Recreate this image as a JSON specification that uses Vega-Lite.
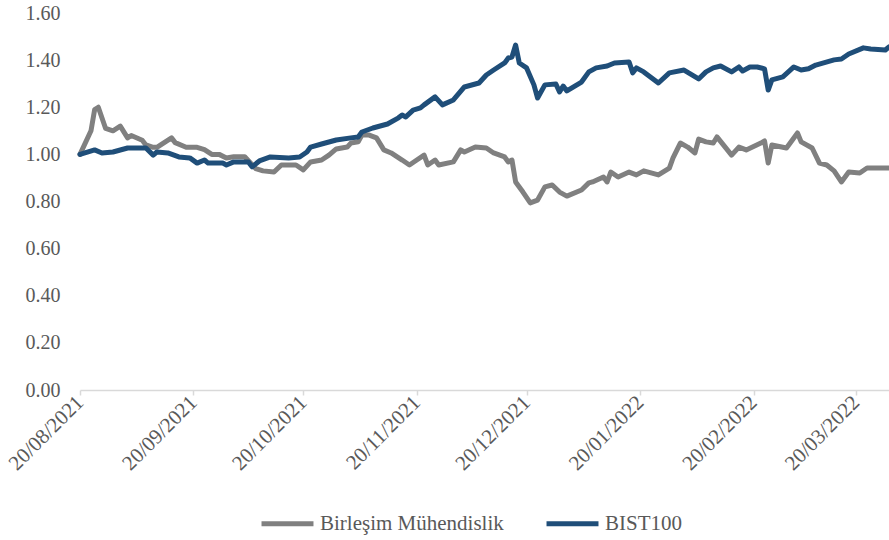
{
  "$schema": "https://vega.github.io/schema/vega-lite/v6.json",
  "width": 809,
  "height": 377,
  "autosize": "none",
  "padding": {"left": 80, "top": 13, "right": 0, "bottom": 150},
  "background": "white",
  "config": {"view": {"stroke": null}, "font": "Liberation Serif"},
  "datasets": {
    "g": [
      {"date":"2021-08-20","v":1.00},{"date":"2021-08-23","v":1.10},{"date":"2021-08-24","v":1.19},{"date":"2021-08-25","v":1.20},
      {"date":"2021-08-27","v":1.11},{"date":"2021-08-29","v":1.10},{"date":"2021-08-31","v":1.12},{"date":"2021-09-02","v":1.07},
      {"date":"2021-09-03","v":1.08},{"date":"2021-09-06","v":1.06},{"date":"2021-09-07","v":1.04},{"date":"2021-09-09","v":1.03},
      {"date":"2021-09-10","v":1.03},{"date":"2021-09-12","v":1.05},{"date":"2021-09-14","v":1.07},{"date":"2021-09-15","v":1.05},
      {"date":"2021-09-18","v":1.03},{"date":"2021-09-20","v":1.03},{"date":"2021-09-21","v":1.03},{"date":"2021-09-23","v":1.02},
      {"date":"2021-09-25","v":1.00},{"date":"2021-09-27","v":1.00},{"date":"2021-09-29","v":0.985},{"date":"2021-10-01","v":0.99},
      {"date":"2021-10-04","v":0.99},{"date":"2021-10-07","v":0.94},{"date":"2021-10-09","v":0.93},{"date":"2021-10-12","v":0.925},
      {"date":"2021-10-14","v":0.955},{"date":"2021-10-18","v":0.955},{"date":"2021-10-20","v":0.934},{"date":"2021-10-22","v":0.968},
      {"date":"2021-10-25","v":0.976},{"date":"2021-10-27","v":0.997},{"date":"2021-10-29","v":1.023},{"date":"2021-11-01","v":1.031},
      {"date":"2021-11-02","v":1.048},{"date":"2021-11-04","v":1.053},{"date":"2021-11-05","v":1.082},{"date":"2021-11-07","v":1.082},
      {"date":"2021-11-09","v":1.07},{"date":"2021-11-11","v":1.019},{"date":"2021-11-13","v":1.006},{"date":"2021-11-16","v":0.976},
      {"date":"2021-11-18","v":0.955},{"date":"2021-11-20","v":0.976},{"date":"2021-11-22","v":0.997},{"date":"2021-11-23","v":0.955},
      {"date":"2021-11-25","v":0.976},{"date":"2021-11-26","v":0.955},{"date":"2021-11-30","v":0.968},{"date":"2021-12-02","v":1.019},
      {"date":"2021-12-03","v":1.01},{"date":"2021-12-06","v":1.031},{"date":"2021-12-09","v":1.027},{"date":"2021-12-11","v":1.006},
      {"date":"2021-12-14","v":0.989},{"date":"2021-12-15","v":0.968},{"date":"2021-12-16","v":0.976},{"date":"2021-12-17","v":0.883},
      {"date":"2021-12-19","v":0.84},{"date":"2021-12-21","v":0.794},{"date":"2021-12-23","v":0.806},{"date":"2021-12-25","v":0.862},
      {"date":"2021-12-27","v":0.87},{"date":"2021-12-29","v":0.84},{"date":"2021-12-31","v":0.823},{"date":"2022-01-04","v":0.849},
      {"date":"2022-01-06","v":0.879},{"date":"2022-01-07","v":0.883},{"date":"2022-01-10","v":0.904},{"date":"2022-01-11","v":0.883},
      {"date":"2022-01-12","v":0.925},{"date":"2022-01-14","v":0.904},{"date":"2022-01-17","v":0.925},{"date":"2022-01-19","v":0.913},
      {"date":"2022-01-21","v":0.93},{"date":"2022-01-25","v":0.913},{"date":"2022-01-28","v":0.942},{"date":"2022-01-29","v":0.985},
      {"date":"2022-01-31","v":1.048},{"date":"2022-02-02","v":1.031},{"date":"2022-02-04","v":1.006},{"date":"2022-02-05","v":1.065},
      {"date":"2022-02-07","v":1.053},{"date":"2022-02-09","v":1.048},{"date":"2022-02-10","v":1.074},{"date":"2022-02-14","v":0.997},
      {"date":"2022-02-16","v":1.031},{"date":"2022-02-18","v":1.019},{"date":"2022-02-22","v":1.048},{"date":"2022-02-23","v":1.057},
      {"date":"2022-02-24","v":0.963},{"date":"2022-02-25","v":1.04},{"date":"2022-03-01","v":1.027},{"date":"2022-03-04","v":1.091},
      {"date":"2022-03-05","v":1.053},{"date":"2022-03-08","v":1.027},{"date":"2022-03-10","v":0.963},{"date":"2022-03-12","v":0.955},
      {"date":"2022-03-14","v":0.93},{"date":"2022-03-16","v":0.883},{"date":"2022-03-18","v":0.925},{"date":"2022-03-21","v":0.921},
      {"date":"2022-03-23","v":0.942},{"date":"2022-03-26","v":0.942},{"date":"2022-03-29","v":0.942}
    ],
    "b": [
      {"date":"2021-08-20","v":1.00},{"date":"2021-08-24","v":1.019},{"date":"2021-08-26","v":1.006},{"date":"2021-08-29","v":1.01},
      {"date":"2021-09-02","v":1.027},{"date":"2021-09-07","v":1.027},{"date":"2021-09-09","v":0.997},{"date":"2021-09-10","v":1.01},
      {"date":"2021-09-13","v":1.006},{"date":"2021-09-16","v":0.989},{"date":"2021-09-19","v":0.985},{"date":"2021-09-21","v":0.963},
      {"date":"2021-09-23","v":0.976},{"date":"2021-09-24","v":0.963},{"date":"2021-09-28","v":0.963},{"date":"2021-09-29","v":0.955},
      {"date":"2021-10-01","v":0.968},{"date":"2021-10-03","v":0.968},{"date":"2021-10-05","v":0.968},{"date":"2021-10-06","v":0.947},
      {"date":"2021-10-08","v":0.972},{"date":"2021-10-11","v":0.989},{"date":"2021-10-16","v":0.985},{"date":"2021-10-19","v":0.989},
      {"date":"2021-10-21","v":1.01},{"date":"2021-10-22","v":1.031},{"date":"2021-10-25","v":1.044},{"date":"2021-10-29","v":1.061},
      {"date":"2021-11-02","v":1.07},{"date":"2021-11-04","v":1.074},{"date":"2021-11-05","v":1.095},{"date":"2021-11-08","v":1.112},
      {"date":"2021-11-12","v":1.129},{"date":"2021-11-15","v":1.155},{"date":"2021-11-16","v":1.167},{"date":"2021-11-17","v":1.159},
      {"date":"2021-11-19","v":1.188},{"date":"2021-11-21","v":1.197},{"date":"2021-11-22","v":1.21},{"date":"2021-11-25","v":1.244},
      {"date":"2021-11-27","v":1.21},{"date":"2021-11-30","v":1.231},{"date":"2021-12-03","v":1.286},{"date":"2021-12-07","v":1.303},
      {"date":"2021-12-09","v":1.337},{"date":"2021-12-11","v":1.358},{"date":"2021-12-14","v":1.388},{"date":"2021-12-15","v":1.409},
      {"date":"2021-12-16","v":1.413},{"date":"2021-12-17","v":1.464},{"date":"2021-12-18","v":1.388},{"date":"2021-12-20","v":1.367},
      {"date":"2021-12-22","v":1.295},{"date":"2021-12-23","v":1.239},{"date":"2021-12-25","v":1.295},{"date":"2021-12-28","v":1.299},
      {"date":"2021-12-29","v":1.265},{"date":"2021-12-30","v":1.29},{"date":"2021-12-31","v":1.269},{"date":"2022-01-04","v":1.307},
      {"date":"2022-01-06","v":1.35},{"date":"2022-01-08","v":1.367},{"date":"2022-01-11","v":1.375},{"date":"2022-01-13","v":1.388},
      {"date":"2022-01-17","v":1.392},{"date":"2022-01-18","v":1.346},{"date":"2022-01-19","v":1.367},{"date":"2022-01-21","v":1.35},
      {"date":"2022-01-25","v":1.303},{"date":"2022-01-28","v":1.346},{"date":"2022-02-01","v":1.358},{"date":"2022-02-05","v":1.32},
      {"date":"2022-02-07","v":1.35},{"date":"2022-02-09","v":1.367},{"date":"2022-02-11","v":1.375},{"date":"2022-02-14","v":1.35},
      {"date":"2022-02-16","v":1.371},{"date":"2022-02-17","v":1.354},{"date":"2022-02-19","v":1.371},{"date":"2022-02-21","v":1.371},
      {"date":"2022-02-23","v":1.363},{"date":"2022-02-24","v":1.273},{"date":"2022-02-25","v":1.316},{"date":"2022-02-28","v":1.329},
      {"date":"2022-03-03","v":1.371},{"date":"2022-03-05","v":1.358},{"date":"2022-03-07","v":1.363},{"date":"2022-03-09","v":1.379},
      {"date":"2022-03-14","v":1.401},{"date":"2022-03-16","v":1.405},{"date":"2022-03-18","v":1.426},{"date":"2022-03-22","v":1.452},
      {"date":"2022-03-24","v":1.447},{"date":"2022-03-28","v":1.443},{"date":"2022-03-29","v":1.456}
    ]
  },
  "encoding": {
    "x": {
      "field": "date", "type": "temporal",
      "scale": {"type": "utc", "domain": [{"year": 2021, "month": 8, "date": 20, "utc": true}, {"year": 2022, "month": 3, "date": 29, "utc": true}]},
      "axis": {
        "title": null, "grid": false, "format": "%d/%m/%Y",
        "values": [
          {"year": 2021, "month": 8, "date": 20, "utc": true},
          {"year": 2021, "month": 9, "date": 20, "utc": true},
          {"year": 2021, "month": 10, "date": 20, "utc": true},
          {"year": 2021, "month": 11, "date": 20, "utc": true},
          {"year": 2021, "month": 12, "date": 20, "utc": true},
          {"year": 2022, "month": 1, "date": 20, "utc": true},
          {"year": 2022, "month": 2, "date": 20, "utc": true},
          {"year": 2022, "month": 3, "date": 20, "utc": true}
        ],
        "labelAngle": -45, "labelAlign": "right", "labelBaseline": "middle",
        "labelFont": "Liberation Serif", "labelFontSize": 21, "labelColor": "#595959",
        "labelPadding": 4, "labelOverlap": false, "labelFlush": false,
        "domainColor": "#d9d9d9", "domainWidth": 1.5, "tickColor": "#d9d9d9", "tickSize": 5, "tickWidth": 1.5
      }
    },
    "y": {
      "field": "v", "type": "quantitative",
      "scale": {"domain": [0, 1.6], "nice": false, "zero": true},
      "axis": {
        "title": null, "grid": false, "domain": false, "ticks": false,
        "values": [0, 0.2, 0.4, 0.6, 0.8, 1.0, 1.2, 1.4, 1.6], "format": ".2f",
        "labelFont": "Liberation Serif", "labelFontSize": 20, "labelColor": "#595959",
        "labelPadding": 20
      }
    },
    "color": {
      "datum": "x", "type": "nominal",
      "scale": {"domain": ["Birleşim Mühendislik", "BIST100"], "range": ["#808080", "#1f4e79"]},
      "legend": {
        "title": null, "orient": "none", "legendX": 179, "legendY": 482, "direction": "horizontal",
        "symbolType": "stroke", "symbolSize": 2700, "symbolStrokeWidth": 5,
        "labelFont": "Liberation Serif", "labelFontSize": 21, "labelColor": "#595959", "labelLimit": 400,
        "labelOffset": 4, "columnPadding": 32
      }
    }
  },
  "layer": [
    {
      "data": {"name": "g"},
      "mark": {"type": "line", "strokeWidth": 5, "strokeJoin": "round", "strokeCap": "round"},
      "encoding": {"color": {"datum": "Birleşim Mühendislik", "type": "nominal"}}
    },
    {
      "data": {"name": "b"},
      "mark": {"type": "line", "strokeWidth": 5, "strokeJoin": "round", "strokeCap": "round"},
      "encoding": {"color": {"datum": "BIST100", "type": "nominal"}}
    }
  ]
}
